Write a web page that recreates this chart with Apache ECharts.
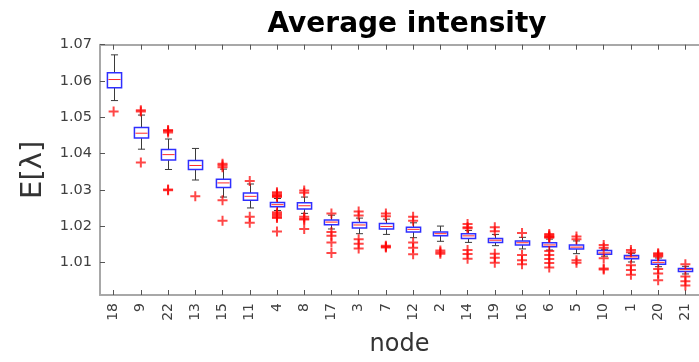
<!DOCTYPE html>
<html><head><meta charset="utf-8">
<script src="https://cdn.jsdelivr.net/npm/echarts@6/dist/echarts.min.js"></script>
<style>html,body{margin:0;padding:0;background:#fff}#c{width:699px;height:362px}</style>
</head><body><div id="c"></div>
<script>
const categories = ['18','9','22','13','15','11','4','8','17','3','7','12','2','14','19','16','6','5','10','1','20','21'];
const yTicks = [1.01,1.02,1.03,1.04,1.05,1.06,1.07];
const whiskerLow  = [1.0546,1.0412,1.0356,1.0327,1.0280,1.0250,1.0243,1.0235,1.0192,1.0179,1.0177,1.0168,1.0158,1.0155,1.0146,1.0137,1.0134,1.0124,1.0117,1.0101,1.0088,1.0068];
const q1          = [1.0581,1.0443,1.0382,1.0356,1.0306,1.0271,1.0253,1.0247,1.0204,1.0195,1.0192,1.0184,1.0173,1.0166,1.0155,1.0148,1.0143,1.0137,1.0122,1.0110,1.0095,1.0075];
const median      = [1.0604,1.0456,1.0397,1.0367,1.0319,1.0282,1.0259,1.0256,1.0211,1.0203,1.0199,1.0191,1.0179,1.0173,1.0161,1.0154,1.0148,1.0142,1.0126,1.0115,1.0100,1.0080];
const q3          = [1.0623,1.0472,1.0411,1.0381,1.0329,1.0291,1.0265,1.0264,1.0217,1.0210,1.0207,1.0197,1.0184,1.0179,1.0166,1.0159,1.0154,1.0148,1.0133,1.0119,1.0106,1.0083];
const whiskerHigh = [1.0672,1.0506,1.0440,1.0414,1.0357,1.0316,1.0276,1.0280,1.0230,1.0222,1.0219,1.0209,1.0200,1.0188,1.0177,1.0169,1.0164,1.0159,1.0136,1.0125,1.0112,1.0089];
const outliers = [
  [1.0516],
  [1.0516,1.0519,1.0375],
  [1.0458,1.0462,1.0465,1.0301,1.0299],
  [1.0282],
  [1.0362,1.0368,1.0372,1.0271,1.0215],
  [1.0324,1.0226,1.0209],
  [1.0280,1.0283,1.0286,1.0290,1.0293,1.0238,1.0234,1.0230,1.0226,1.0222,1.0185],
  [1.0292,1.0298,1.0226,1.0220,1.0218,1.0192],
  [1.0235,1.0184,1.0173,1.0155,1.0126],
  [1.0229,1.0240,1.0164,1.0151,1.0138],
  [1.0227,1.0235,1.0146,1.0143,1.0141],
  [1.0215,1.0226,1.0155,1.0140,1.0122],
  [1.0133,1.0128,1.0124],
  [1.0194,1.0197,1.0206,1.0134,1.0123,1.0110],
  [1.0186,1.0197,1.0124,1.0113,1.0099],
  [1.0181,1.0120,1.0106,1.0095],
  [1.0168,1.0170,1.0172,1.0175,1.0178,1.0131,1.0120,1.0109,1.0098,1.0086],
  [1.0164,1.0171,1.0106,1.0099],
  [1.0140,1.0148,1.0111,1.0083,1.0080],
  [1.0128,1.0134,1.0092,1.0079,1.0066],
  [1.0116,1.0119,1.0122,1.0125,1.0082,1.0069,1.0051],
  [1.0095,1.0061,1.0048,1.0036]
];

const boxData = categories.map((c,i)=>[i, whiskerLow[i], q1[i], median[i], q3[i], whiskerHigh[i]]);
const outlierData = [];
outliers.forEach((arr,i)=>arr.forEach(v=>outlierData.push([i,v])));

const FONT = 'DejaVu Sans';
const axisGray = '#a8a8a8';
const tickGray = '#555';
const labelGray = '#404040';

function renderBox(params, api){
  const i = api.value(0);
  const lo = api.coord([i, api.value(1)]);
  const b1 = api.coord([i, api.value(2)]);
  const md = api.coord([i, api.value(3)]);
  const b3 = api.coord([i, api.value(4)]);
  const hi = api.coord([i, api.value(5)]);
  const band = api.size([1,0])[0];
  const hw = band*0.26, cw = band*0.13;
  const x = Math.round(lo[0]) + 0.5;
  const ws = {stroke:'#3a3a3a', lineWidth:1};
  return {type:'group', children:[
    {type:'line', shape:{x1:x,y1:b3[1],x2:x,y2:hi[1]}, style:ws},
    {type:'line', shape:{x1:x,y1:b1[1],x2:x,y2:lo[1]}, style:ws},
    {type:'line', shape:{x1:x-cw,y1:hi[1],x2:x+cw,y2:hi[1]}, style:ws},
    {type:'line', shape:{x1:x-cw,y1:lo[1],x2:x+cw,y2:lo[1]}, style:ws},
    {type:'rect', shape:{x:x-hw,y:b3[1],width:2*hw,height:b1[1]-b3[1]}, style:{fill:'#fff',stroke:'#2f2fff',lineWidth:1.5}},
    {type:'line', shape:{x1:x-hw+1,y1:md[1],x2:x+hw-1,y2:md[1]}, style:{stroke:'#ff2a2a',lineWidth:1}}
  ]};
}

const chart = echarts.init(document.getElementById('c'), null, {renderer:'canvas'});
chart.setOption({
  animation:false,
  backgroundColor:'#fff',
  title:{text:'Average intensity', left:402, top:6, textAlign:'center',
    textStyle:{fontFamily:FONT, fontWeight:'bold', fontSize:28, color:'#000'}},
  grid:{left:100, top:44.7, right:-6, bottom:59.3, containLabel:false},
  xAxis:[{
    type:'category', data:categories, position:'bottom',
    name:'node', nameLocation:'middle', nameGap:38,
    nameTextStyle:{fontFamily:FONT, fontSize:24, color:'#333'},
    axisLine:{show:true, lineStyle:{color:axisGray, width:2}},
    axisTick:{show:true, inside:true, length:5, alignWithLabel:true, lineStyle:{color:tickGray}},
    axisLabel:{rotate:90, margin:8, fontFamily:FONT, fontSize:14, color:labelGray, interval:0},
    splitLine:{show:false}
  },{
    type:'category', data:categories, position:'top',
    axisLine:{show:true, lineStyle:{color:axisGray, width:2}},
    axisTick:{show:true, inside:true, length:5, alignWithLabel:true, lineStyle:{color:tickGray}},
    axisLabel:{show:false}, splitLine:{show:false}
  }],
  yAxis:{
    type:'value', min:1.001, max:1.07,
    name:'E[λ]', nameLocation:'middle', nameGap:52, nameRotate:90,
    nameTextStyle:{fontFamily:FONT, fontSize:29, color:'#333'},
    axisLine:{show:true, lineStyle:{color:axisGray, width:2}},
    axisTick:{show:true, inside:true, length:5, customValues:yTicks, lineStyle:{color:tickGray}},
    axisLabel:{customValues:yTicks, fontFamily:FONT, fontSize:14.5, color:labelGray, margin:8,
      formatter:v=>Number(v).toFixed(2)},
    splitLine:{show:false}
  },
  series:[{
    type:'custom', renderItem:renderBox, data:boxData,
    encode:{x:0, y:[1,2,3,4,5]}, z:2
  },{
    type:'scatter', data:outlierData, z:3,
    symbol:'path://M4,0 L6,0 L6,4 L10,4 L10,6 L6,6 L6,10 L4,10 L4,6 L0,6 L0,4 L4,4 Z',
    symbolSize:10,
    itemStyle:{color:'rgba(255,0,0,0.9)'}
  }]
});
</script></body></html>
